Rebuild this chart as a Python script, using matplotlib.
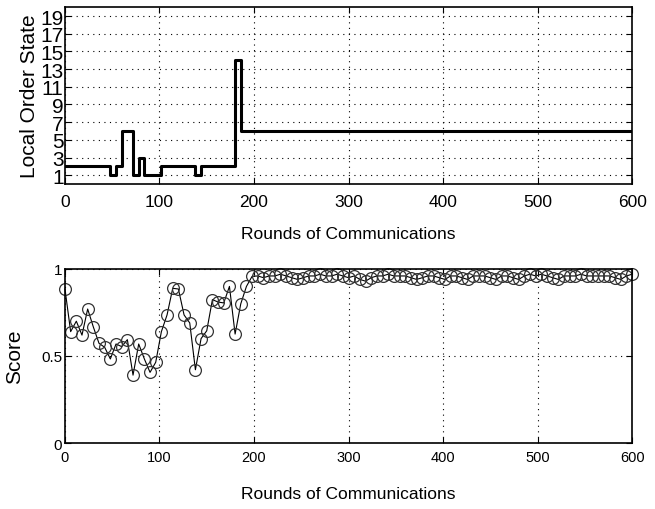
import matplotlib
matplotlib.use("Agg")
import matplotlib.pyplot as plt

plt.rcParams['font.family'] = ['Liberation Sans', 'DejaVu Sans']

# Local order state (step changes: round where each value starts)
state_rounds = [0, 48, 54, 60, 72, 78, 84, 102, 138, 144, 180, 186, 600]
state_values = [2, 1, 2, 6, 1, 3, 1, 2, 1, 2, 14, 6, 6]

# Score sampled every 6 rounds
score_rounds = list(range(0, 601, 6))
score_values = [
    0.885, 0.64, 0.70, 0.62, 0.77, 0.667, 0.573, 0.55, 0.483, 0.569,
    0.554, 0.594, 0.39, 0.569, 0.483, 0.406, 0.464, 0.64, 0.736, 0.889,
    0.885, 0.736, 0.69, 0.421, 0.60, 0.645, 0.824, 0.81, 0.805, 0.90,
    0.626, 0.80, 0.90, 0.958,
    0.96, 0.95, 0.96, 0.96, 0.97, 0.96, 0.95, 0.94, 0.95, 0.96,
    0.96, 0.97, 0.96, 0.96, 0.97, 0.96, 0.95, 0.96, 0.94, 0.93,
    0.95, 0.96, 0.96, 0.97, 0.96, 0.96, 0.96, 0.95, 0.94, 0.95,
    0.96, 0.96, 0.95, 0.94, 0.96, 0.96, 0.95, 0.94, 0.96, 0.96,
    0.96, 0.95, 0.94, 0.96, 0.96, 0.95, 0.94, 0.96, 0.97, 0.96,
    0.97, 0.96, 0.95, 0.94, 0.96, 0.96, 0.96, 0.97, 0.96, 0.96,
    0.96, 0.96, 0.96, 0.95, 0.94, 0.96, 0.97,
]

x_ticks = [0, 100, 200, 300, 400, 500, 600]
state_ticks = [1, 3, 5, 7, 9, 11, 13, 15, 17, 19]
score_ticks = [0, 0.5, 1]
score_ticklabels = ['0', '0.5', '1']


def style_axes(ax):
    ax.grid(True, linestyle=(0, (1, 4)), color='black', linewidth=0.8)
    ax.tick_params(direction='in', top=True, right=True, length=4, width=0.8)
    for s in ax.spines.values():
        s.set_linewidth(1.2)


fig = plt.figure(figsize=(6.55, 5.10), dpi=100)

# top panel
ax1 = fig.add_axes([0.0992, 0.637, 0.8658, 0.347])
ax1.step(state_rounds, state_values, where='post', color='black', linewidth=2.2)
ax1.set_xlim(0, 600)
ax1.set_ylim(0, 20)
ax1.set_xticks(x_ticks)
ax1.set_yticks(state_ticks)
style_axes(ax1)
ax1.tick_params(axis='y', labelsize=15, pad=1)
ax1.tick_params(axis='x', labelsize=12.5, pad=7)
ax1.set_xlabel('Rounds of Communications', fontsize=12.5, labelpad=12)
ax1.set_ylabel('Local Order State', fontsize=15, labelpad=1)

# bottom panel
ax2 = fig.add_axes([0.0992, 0.1294, 0.8658, 0.3412])
ax2.plot(score_rounds, score_values, color='black', linewidth=0.8,
         marker='o', markersize=8.5, markerfacecolor='none',
         markeredgecolor='#333333', markeredgewidth=0.9, clip_on=False)
ax2.set_xlim(0, 600)
ax2.set_ylim(0, 1)
ax2.set_xticks(x_ticks)
ax2.set_yticks(score_ticks)
ax2.set_yticklabels(score_ticklabels)
style_axes(ax2)
ax2.tick_params(axis='x', labelsize=10.5, pad=5)
ax2.tick_params(axis='y', labelsize=11, pad=2)
ax2.set_xlabel('Rounds of Communications', fontsize=12.5, labelpad=16)
ax2.set_ylabel('Score', fontsize=15, labelpad=12)

fig.savefig('out.png', dpi=100)
